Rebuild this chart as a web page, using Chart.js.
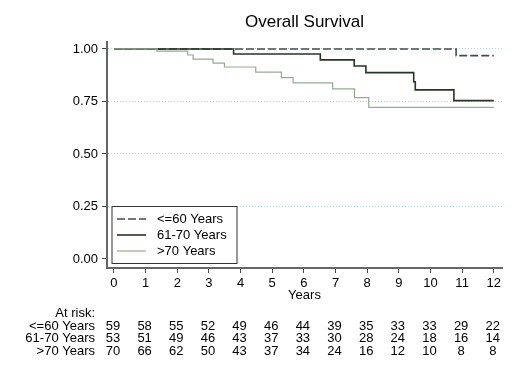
<!DOCTYPE html>
<html lang="en">
<head>
    <meta charset="UTF-8">
    <title>Overall Survival</title>
    <script src="https://cdn.jsdelivr.net/npm/chart.js"></script>
    <style>
        html, body { margin: 0; padding: 0; background: #fff; }
        #wrap { width: 520px; height: 381px; }
    </style>
</head>
<body>
    <div id="wrap"><canvas id="kmChart" width="520" height="381"></canvas></div>

    <script>
        // Kaplan-Meier step data
        const yearTicks = [0, 1, 2, 3, 4, 5, 6, 7, 8, 9, 10, 11, 12];
        const survTicks = [0, 0.25, 0.5, 0.75, 1];

        const groupNames = ['<=60 Years', '61-70 Years', '>70 Years'];

        const timesLe60 = [0, 10.81, 12];
        const survLe60 = [1, 0.968, 0.968];

        const times6170 = [0, 3.78, 6.52, 7.59, 7.96, 9.47, 9.52, 10.74, 12];
        const surv6170 = [1, 0.976, 0.948, 0.919, 0.887, 0.844, 0.805, 0.754, 0.754];

        const timesGt70 = [0, 1.36, 2.33, 2.5, 3.13, 3.49, 4.48, 5.29, 5.66, 6.91, 7.6, 8.05, 12];
        const survGt70 = [1, 0.99, 0.971, 0.951, 0.932, 0.914, 0.890, 0.863, 0.838, 0.810, 0.768, 0.722, 0.722];

        // numbers at risk at each year
        const riskLe60 = [59, 58, 55, 52, 49, 46, 44, 39, 35, 33, 33, 29, 22];
        const risk6170 = [53, 51, 49, 46, 43, 37, 33, 30, 28, 24, 18, 16, 14];
        const riskGt70 = [70, 66, 62, 50, 43, 37, 34, 24, 16, 12, 10, 8, 8];

        const FONT = '"Liberation Sans", Arial, sans-serif';
        const styles = [
            { color: '#444c4a', width: 1.6, dash: [8, 3] },
            { color: '#263626', width: 1.6, dash: [] },
            { color: '#93ab93', width: 1.2, dash: [] }
        ];

        function toPoints(xs, ys) {
            return xs.map((x, i) => ({ x: x, y: ys[i] }));
        }

        // title, legend box and the at-risk table
        const extras = {
            id: 'extras',
            afterDraw(chart) {
                const ctx = chart.ctx;
                const area = chart.chartArea;
                const xs = chart.scales.x;
                const mid = (area.left + area.right) / 2;
                ctx.save();
                ctx.fillStyle = '#000';
                ctx.textBaseline = 'middle';

                ctx.font = '17px ' + FONT;
                ctx.textAlign = 'center';
                ctx.fillText('Overall Survival', mid, 22);

                ctx.font = '13px ' + FONT;
                ctx.fillText('Years', mid, 295);

                // legend
                const lx = 111.5, ly = 206, lw = 125, lh = 57;
                ctx.fillStyle = '#fff';
                ctx.fillRect(lx, ly, lw, lh);
                ctx.strokeStyle = '#333';
                ctx.lineWidth = 1;
                ctx.strokeRect(lx + 0.5, ly + 0.5, lw, lh);
                const rowsY = [219, 235, 251];
                groupNames.forEach((name, i) => {
                    const s = styles[i];
                    ctx.strokeStyle = s.color;
                    ctx.lineWidth = s.width;
                    ctx.setLineDash(s.dash);
                    ctx.beginPath();
                    ctx.moveTo(117, rowsY[i]);
                    ctx.lineTo(146, rowsY[i]);
                    ctx.stroke();
                    ctx.setLineDash([]);
                    ctx.fillStyle = '#000';
                    ctx.textAlign = 'left';
                    ctx.font = '13px ' + FONT;
                    ctx.fillText(name, 157, rowsY[i] + 0.5);
                });

                // at risk table
                ctx.font = '13px ' + FONT;
                ctx.textAlign = 'right';
                ctx.fillStyle = '#000';
                ctx.fillText('At risk:', 95, 313);
                const tableRows = [riskLe60, risk6170, riskGt70];
                const tableY = [326, 338.5, 351];
                tableRows.forEach((row, r) => {
                    ctx.textAlign = 'right';
                    ctx.fillText(groupNames[r], 95, tableY[r]);
                    ctx.textAlign = 'center';
                    row.forEach((n, i) => {
                        ctx.fillText(String(n), xs.getPixelForValue(yearTicks[i]) - 1, tableY[r]);
                    });
                });
                ctx.restore();
            }
        };

        const ctx = document.getElementById('kmChart').getContext('2d');
        new Chart(ctx, {
            type: 'line',
            data: {
                datasets: [
                    { label: groupNames[0], data: toPoints(timesLe60, survLe60), order: 2 },
                    { label: groupNames[1], data: toPoints(times6170, surv6170), order: 1 },
                    { label: groupNames[2], data: toPoints(timesGt70, survGt70), order: 0 }
                ].map((d, i) => Object.assign(d, {
                    borderColor: styles[i].color,
                    borderWidth: styles[i].width,
                    borderDash: styles[i].dash,
                    stepped: 'before',
                    pointRadius: 0,
                    fill: false
                }))
            },
            options: {
                responsive: false,
                animation: false,
                devicePixelRatio: 1,
                layout: { autoPadding: false, padding: { left: 0, top: 42, right: 18, bottom: 0 } },
                plugins: {
                    legend: { display: false },
                    title: { display: false },
                    tooltip: { enabled: false }
                },
                scales: {
                    x: {
                        type: 'linear',
                        min: -0.22,
                        max: 12.26,
                        afterFit(scale) { scale.height = 113; },
                        afterBuildTicks(scale) { scale.ticks = yearTicks.map(v => ({ value: v })); },
                        border: { display: true, color: '#666', width: 2 },
                        grid: {
                            drawOnChartArea: false,
                            drawTicks: true,
                            tickLength: 5,
                            tickColor: '#444',
                            tickWidth: 1
                        },
                        ticks: {
                            color: '#000',
                            padding: 3,
                            maxRotation: 0,
                            font: { family: FONT, size: 13 },
                            callback: v => String(v)
                        }
                    },
                    y: {
                        min: -0.043,
                        max: 1.033,
                        afterFit(scale) { scale.width = 107; },
                        afterBuildTicks(scale) { scale.ticks = survTicks.map(v => ({ value: v })); },
                        border: { display: true, color: '#666', width: 2, dash: [1, 2] },
                        grid: {
                            color: c => (c.tick && c.tick.value > 0 ? '#b4d6da' : 'rgba(0,0,0,0)'),
                            lineWidth: 1,
                            drawTicks: true,
                            tickLength: 5,
                            tickColor: '#444',
                            tickWidth: 1,
                            tickBorderDash: []
                        },
                        ticks: {
                            color: '#000',
                            padding: 4,
                            font: { family: FONT, size: 13 },
                            callback: v => Number(v).toFixed(2)
                        }
                    }
                }
            },
            plugins: [extras]
        });
    </script>
</body>
</html>
